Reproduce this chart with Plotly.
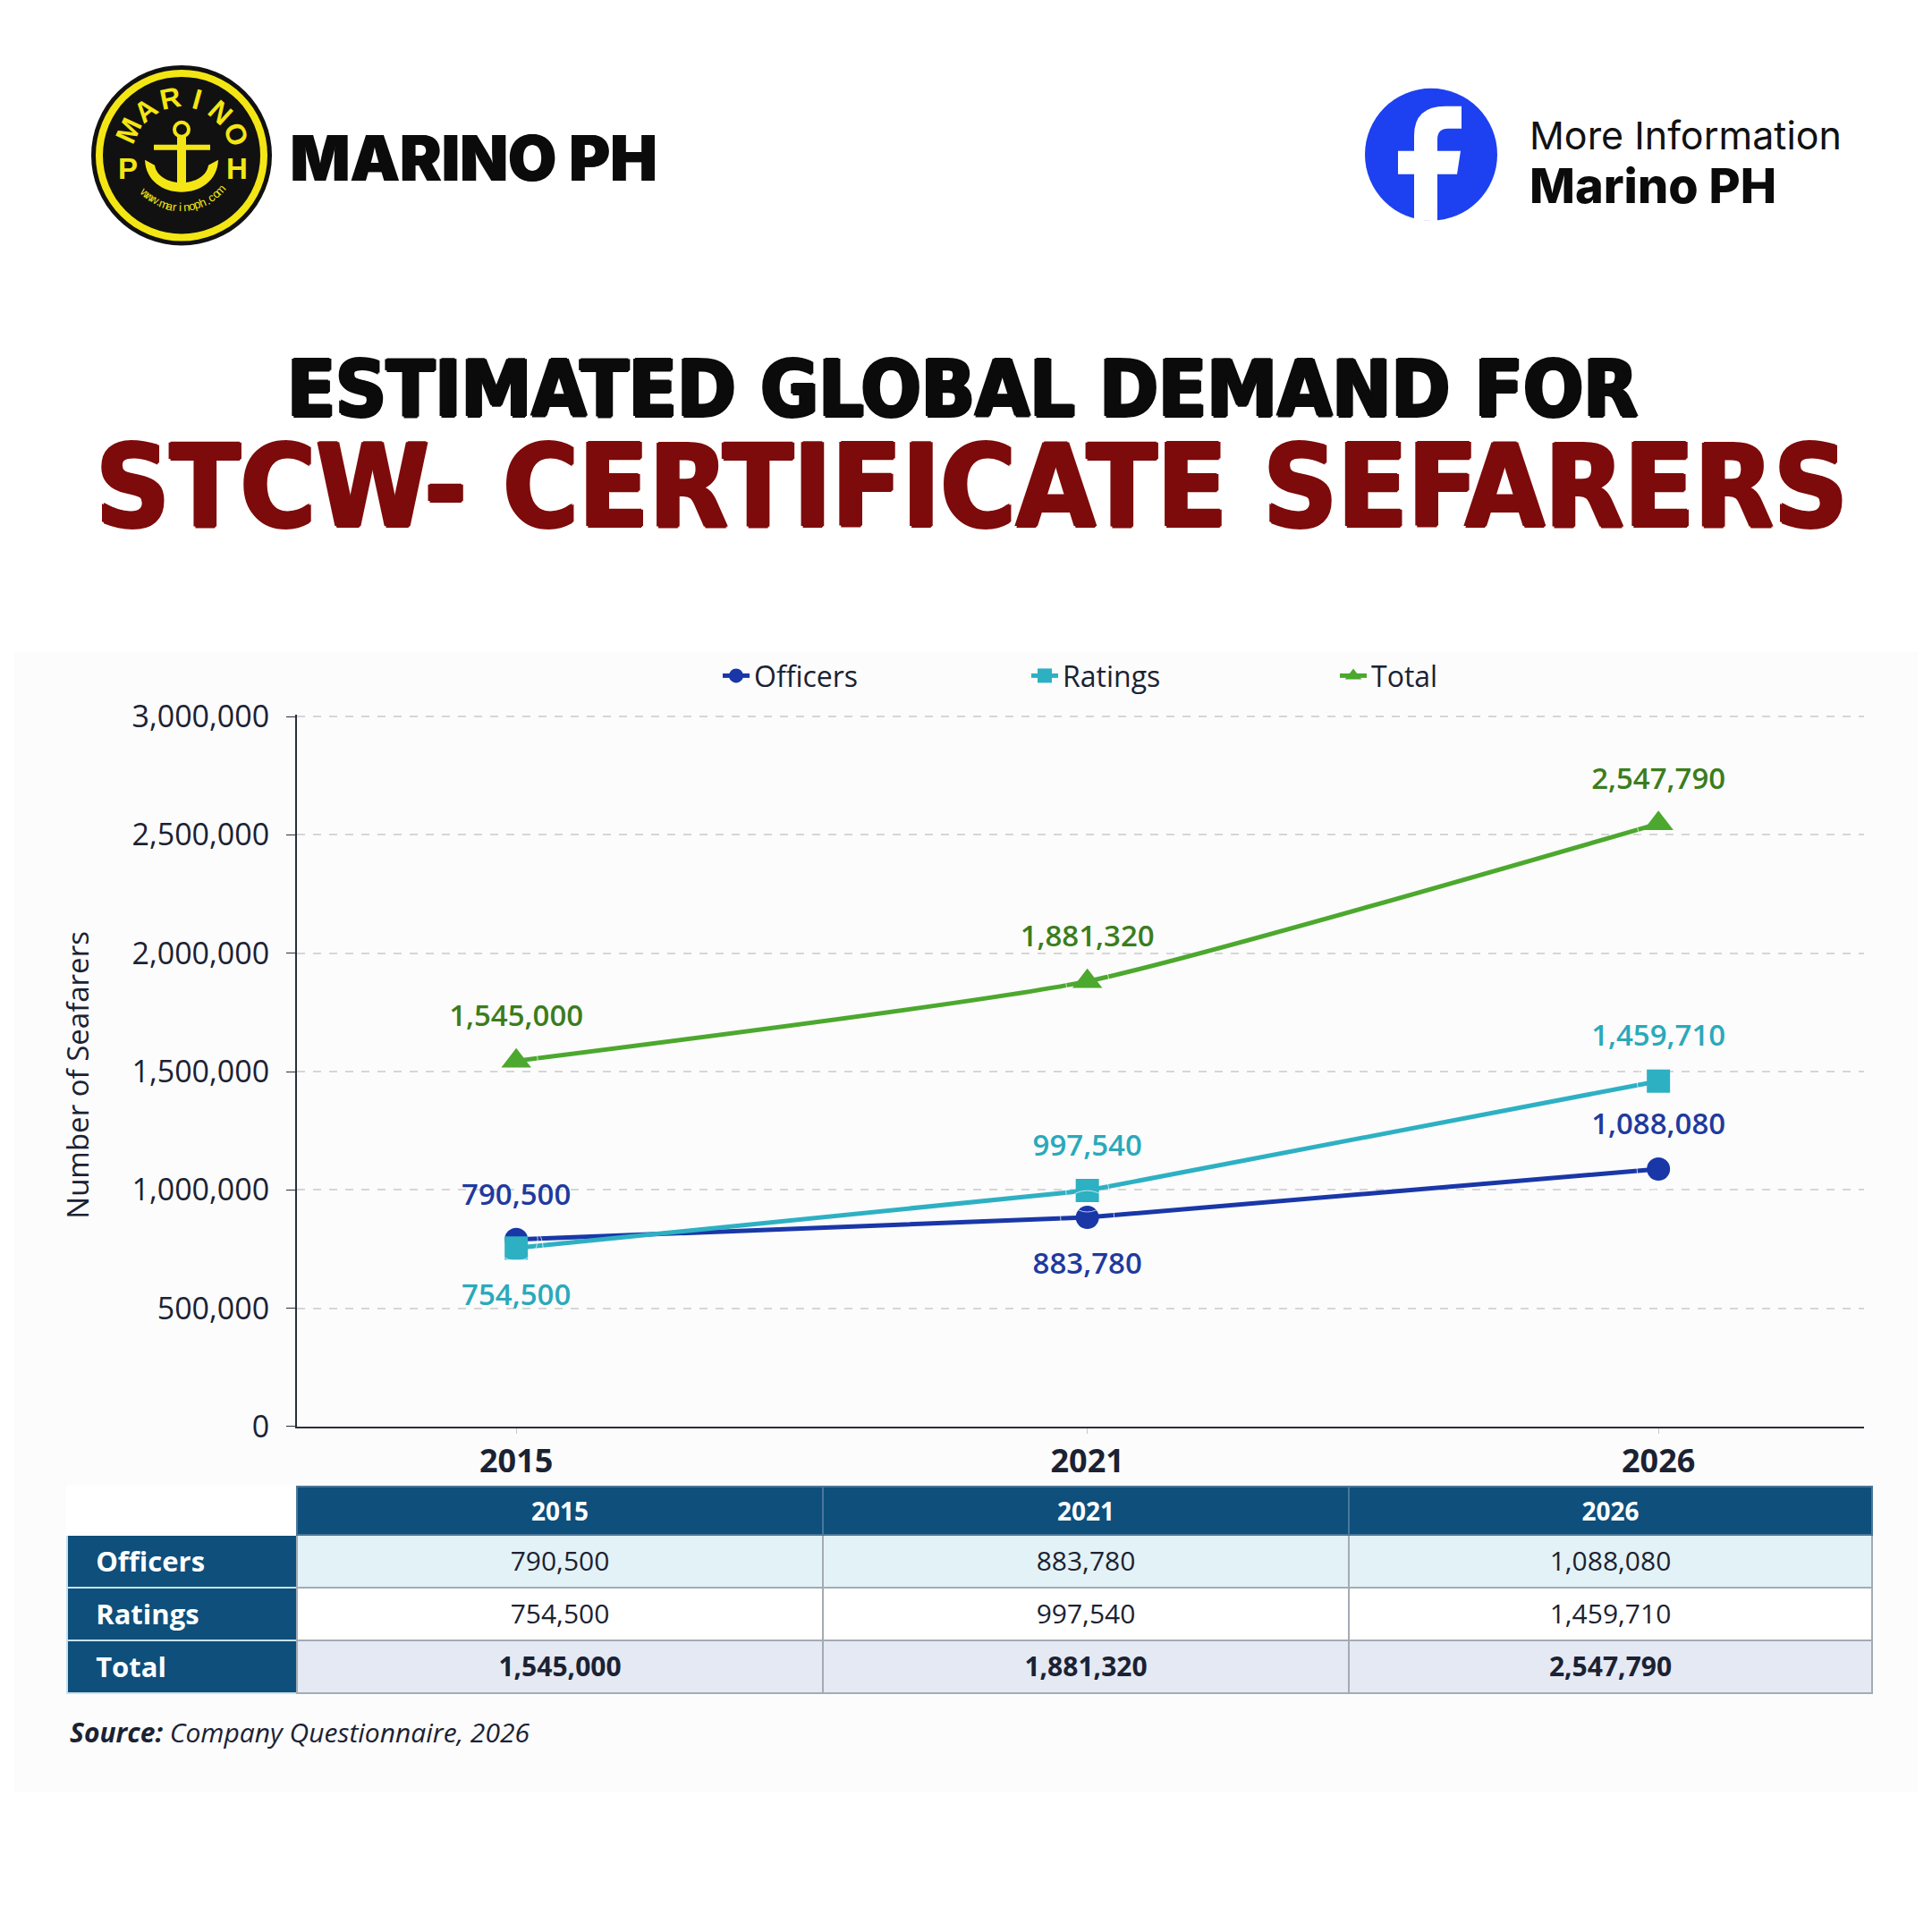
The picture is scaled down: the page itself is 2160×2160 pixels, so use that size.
import math
import plotly.graph_objects as go

W = H = 2160

# chart data
years = ["2015", "2021", "2026"]
officers = [790500, 883780, 1088080]
ratings = [754500, 997540, 1459710]
total = [1545000, 1881320, 2547790]
series_names = ["Officers", "Ratings", "Total"]
y_ticks = [0, 500000, 1000000, 1500000, 2000000, 2500000, 3000000]

# styles
colors = {"Officers": "#1a37a8", "Ratings": "#2eb0c3", "Total": "#4ca82e"}
label_colors = {"Officers": "#1f3a9e", "Ratings": "#2aa9bb", "Total": "#3b7d1c"}
symbols = {"Officers": "circle", "Ratings": "square", "Total": "triangle-up"}
label_side = {"Officers": ["top center", "bottom center", "top center"],
              "Ratings": ["bottom center", "top center", "top center"],
              "Total": ["top center", "top center", "top center"]}
INK = "#1b2233"
HDR = "#0e4f7c"
FONT = "Open Sans"
YEL = "#f4e614"


# page pixel -> paper fraction (the shot sits a little lower and squeezed)
def X(x):
    return (x - 8) / W


def Y(y):
    return 1 - (y - 32) / 0.982 / H


def pt(x, y):
    return f"{X(x):.5f},{Y(y):.5f}"


def note(x, y, text, font, **kw):
    d = dict(x=X(x), y=Y(y), xref="paper", yref="paper", text=text,
             showarrow=False, xanchor="center", yanchor="middle", font=font)
    d.update(kw)
    return d


data = {"Officers": officers, "Ratings": ratings, "Total": total}

fig = go.Figure()

for name in series_names:
    fig.add_trace(go.Scatter(
        x=years, y=data[name], name=name, mode="lines+markers",
        line=dict(color=colors[name], width=5,
                  shape="spline" if name == "Total" else "linear", smoothing=0.5),
        marker=dict(symbol=symbols[name], size=29 if name == "Total" else 26,
                    color=colors[name]),
        hovertemplate="%{y:,}<extra>" + name + "</extra>",
    ))

# value labels (transparent big markers push the text away from the points)
for name in series_names:
    gap = [60 if s.startswith("bottom") else 48 for s in label_side[name]]
    fig.add_trace(go.Scatter(
        x=years, y=data[name], mode="markers+text", showlegend=False,
        text=[f"{v:,}" for v in data[name]], textposition=label_side[name],
        textfont=dict(family=FONT, size=33, color=label_colors[name], weight=600),
        marker=dict(size=gap, color="rgba(0,0,0,0)"), hoverinfo="skip",
    ))

# table under the chart
cell_fill = ["#e3f2f6", "#ffffff", "#e5e9f4"]
row_labels = ["\u00a0\u00a0\u00a0<b>" + n + "</b>" for n in series_names]
col_vals = [row_labels]
for i in range(len(years)):
    col_vals.append([f"<span style='font-weight:400'>{officers[i]:,}</span>",
                     f"<span style='font-weight:400'>{ratings[i]:,}</span>",
                     f"<b>{total[i]:,}</b>"])

fig.add_trace(go.Table(
    domain=dict(x=[X(75), X(2093)], y=[Y(1980), Y(1668)]),
    columnwidth=[257, 588, 588, 585],
    header=dict(
        values=[""] + ["<b>" + y + "</b>" for y in years],
        fill_color=["white", HDR, HDR, HDR],
        line=dict(color=["white", "#4a7799", "#4a7799", "#4a7799"], width=1.5),
        font=dict(family=FONT, size=28, color="white"),
        align="center", height=50,
    ),
    cells=dict(
        values=col_vals,
        fill_color=[[HDR] * 3] + [cell_fill] * 3,
        line=dict(color=["#c6e2ec", "#a3abb4", "#a3abb4", "#a3abb4"], width=1.5),
        font=dict(family=FONT, size=[31, 30, 30, 30],
                  color=["white", INK, INK, INK]),
        align=["left", "center", "center", "center"], height=59,
    ),
))

annotations = []
shapes = []

annotations.append(note(87, 1207, "Number of Seafarers",
                        dict(family=FONT, size=33, color=INK), textangle=-90))
annotations.append(note(76, 1943, "<b><i>Source:</i></b> <i>Company Questionnaire, 2026</i>",
                        dict(family=FONT, size=30, color=INK), xanchor="left"))

# headline
heavy = "2px 0 0 {c}, -2px 0 0 {c}, 0 2px 0 {c}, 0 -1px 0 {c}, 1px 1px 0 {c}"
title_font = "DejaVu Sans Condensed, Liberation Sans Narrow, Liberation Sans"
annotations.append(note(1076, 438, "ESTIMATED GLOBAL DEMAND FOR",
                        dict(family=title_font, size=88, color="#0b0b0b", weight="bold",
                             shadow=heavy.format(c="#0b0b0b"))))
annotations.append(note(1086, 548, "STCW- CERTIFICATE SEFARERS",
                        dict(family=title_font, size=128, color="#7e0b0b", weight="bold",
                             shadow=heavy.format(c="#7e0b0b"))))

# brand text
annotations.append(note(322, 180, "MARINO PH",
                        dict(family="Inter", size=70, color="#0b0b0b", weight=900,
                             shadow="1px 0 0 #0b0b0b"), xanchor="left"))
annotations.append(note(1708, 154, "More Information",
                        dict(family="Inter", size=43, color="#111111"), xanchor="left"))
annotations.append(note(1708, 211, "Marino PH",
                        dict(family="Inter", size=54, color="#0b0b0b", weight=800),
                        xanchor="left"))

# facebook badge
shapes.append(dict(type="circle", xref="paper", yref="paper",
                   x0=X(1526), x1=X(1674), y0=Y(250), y1=Y(102),
                   fillcolor="#1d41f0", line=dict(width=0)))
f_path = ("M " + pt(1581, 249) + " L " + pt(1581, 198) + " L " + pt(1563, 198) +
          " L " + pt(1563, 172) + " L " + pt(1581, 172) + " L " + pt(1581, 155) +
          " Q " + pt(1581, 122) + " " + pt(1616, 122) + " L " + pt(1634, 122) +
          " L " + pt(1634, 147) + " L " + pt(1619, 147) + " Q " + pt(1607, 147) +
          " " + pt(1607, 159) + " L " + pt(1607, 172) + " L " + pt(1633, 172) +
          " L " + pt(1629, 198) + " L " + pt(1607, 198) + " L " + pt(1607, 251) + " Z")
shapes.append(dict(type="path", xref="paper", yref="paper", path=f_path,
                   fillcolor="white", line=dict(width=0)))

# marino badge
cx, cy = 203, 177
for r, c in [(101, "#111111"), (96, YEL), (88, "#111111")]:
    shapes.append(dict(type="circle", xref="paper", yref="paper",
                       x0=X(cx - r), x1=X(cx + r), y0=Y(cy + r), y1=Y(cy - r),
                       fillcolor=c, line=dict(width=0)))
shapes.append(dict(type="circle", xref="paper", yref="paper",
                   x0=X(195), x1=X(211), y0=Y(156), y1=Y(140),
                   fillcolor="rgba(0,0,0,0)", line=dict(color=YEL, width=4)))
shapes.append(dict(type="rect", xref="paper", yref="paper",
                   x0=X(198), x1=X(208), y0=Y(212), y1=Y(156),
                   fillcolor=YEL, line=dict(width=0)))
shapes.append(dict(type="rect", xref="paper", yref="paper",
                   x0=X(172), x1=X(235), y0=Y(171), y1=Y(165),
                   fillcolor=YEL, line=dict(width=0)))
crescent = ("M " + pt(162, 182) + " C " + pt(164, 230) + " " + pt(242, 230) + " " + pt(244, 182) +
            " L " + pt(233, 188) + " C " + pt(229, 214) + " " + pt(177, 214) + " " + pt(173, 188) + " Z")
shapes.append(dict(type="path", xref="paper", yref="paper", path=crescent,
                   fillcolor=YEL, line=dict(width=0)))

for k, ch in enumerate("MARINO"):
    ang = 155 - k * (134 / 5)
    lx = cx + 65 * math.cos(math.radians(ang))
    ly = cy - 65 * math.sin(math.radians(ang))
    annotations.append(note(lx, ly, ch, dict(family="Liberation Sans", size=32,
                                             color=YEL, weight="bold"),
                            textangle=90 - ang))
for ch, lx in [("P", 143), ("H", 265)]:
    annotations.append(note(lx, 192, ch, dict(family="Liberation Sans", size=33,
                                              color=YEL, weight="bold")))
url = "www.marinoph.com"
for k, ch in enumerate(url):
    ang = 226 + k * (92 / (len(url) - 1))
    lx = cx + 58 * math.cos(math.radians(ang))
    ly = cy - 58 * math.sin(math.radians(ang))
    annotations.append(note(lx, ly, ch, dict(family="Liberation Sans", size=13, color=YEL),
                            textangle=270 - ang))

# faint panel behind the chart
shapes.append(dict(type="rect", xref="paper", yref="paper", layer="below",
                   x0=X(16), x1=X(2144), y0=Y(2010), y1=Y(733),
                   fillcolor="#fcfcfc", line=dict(width=0)))

fig.update_layout(
    width=W, height=H,
    margin=dict(l=0, r=0, t=0, b=0),
    paper_bgcolor="white", plot_bgcolor="rgba(0,0,0,0)",
    font=dict(family=FONT, color=INK),
    showlegend=True,
    legend=dict(orientation="h", x=X(803), y=Y(760), xanchor="left", yanchor="middle",
                font=dict(family=FONT, size=32, color=INK),
                entrywidth=300, entrywidthmode="pixels",
                bgcolor="rgba(0,0,0,0)"),
    xaxis=dict(domain=[X(332), X(2084)], type="category", range=[-0.384, 2.36],
               showgrid=False, showline=True, linecolor="#2a2f3a", linewidth=2,
               ticks="outside", ticklen=6, tickcolor="#c8c8c8",
               ticklabelstandoff=0,
               tickfont=dict(family=FONT, size=36, color=INK, weight="bold"),
               zeroline=False),
    yaxis=dict(domain=[Y(1601), Y(803)], range=[0, 3010000],
               tickvals=y_ticks, tickformat=",d",
               showgrid=True, gridcolor="#d6d6d6", gridwidth=1.5, griddash="dash",
               showline=True, linecolor="#2a2f3a", linewidth=2,
               ticks="outside", ticklen=10, tickcolor="#2a2f3a",
               ticklabelstandoff=12,
               tickfont=dict(family=FONT, size=34, color=INK),
               zeroline=False),
    annotations=annotations,
    shapes=shapes,
)

fig.write_html("out.html")
